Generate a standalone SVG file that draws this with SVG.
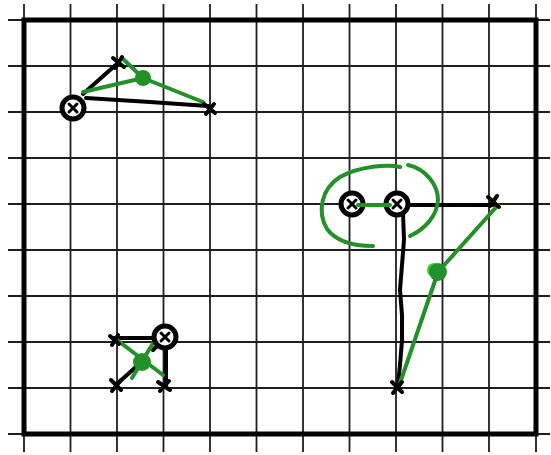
<svg xmlns="http://www.w3.org/2000/svg" width="551" height="455" viewBox="0 0 551 455">
<defs>
<style>
.grid line{stroke:#1e1e1e;stroke-width:1.8}
.border{fill:none;stroke:#000;stroke-width:5}
.blk{fill:none;stroke:#000;stroke-width:4;stroke-linecap:round;stroke-linejoin:round}
.grn{fill:none;stroke:#24902a;stroke-width:4;stroke-linecap:round;stroke-linejoin:round}
.dot{fill:#24902a}
.ring{fill:#fff;stroke:#000;stroke-width:5}
.xm{stroke:#000;stroke-width:4;stroke-linecap:round}
.xs{stroke:#000;stroke-width:3;stroke-linecap:round}
</style>
</defs>
<rect width="551" height="455" fill="#fff"/>
<g id="grid" class="grid">
<line x1="70.5" y1="4" x2="70.5" y2="452"/>
<line x1="117" y1="4" x2="117" y2="452"/>
<line x1="163.5" y1="4" x2="163.5" y2="452"/>
<line x1="210" y1="4" x2="210" y2="452"/>
<line x1="256.5" y1="4" x2="256.5" y2="452"/>
<line x1="303" y1="4" x2="303" y2="452"/>
<line x1="349.5" y1="4" x2="349.5" y2="452"/>
<line x1="396" y1="4" x2="396" y2="452"/>
<line x1="442.5" y1="4" x2="442.5" y2="452"/>
<line x1="489" y1="4" x2="489" y2="452"/>
<line x1="24" y1="4" x2="24" y2="452"/>
<line x1="536" y1="4" x2="536" y2="452"/>
<line x1="8" y1="66" x2="550" y2="66"/>
<line x1="8" y1="112" x2="550" y2="112"/>
<line x1="8" y1="158" x2="550" y2="158"/>
<line x1="8" y1="204" x2="550" y2="204"/>
<line x1="8" y1="250" x2="550" y2="250"/>
<line x1="8" y1="296" x2="550" y2="296"/>
<line x1="8" y1="342" x2="550" y2="342"/>
<line x1="8" y1="388" x2="550" y2="388"/>
<line x1="8" y1="20" x2="550" y2="20"/>
<line x1="8" y1="434" x2="550" y2="434"/>
</g>
<rect class="border" x="24" y="20" width="512" height="414"/>
<g id="connectors">
<path class="blk" d="M83 94 L119 62"/>
<path class="blk" d="M86 98 L150 102 L208 106"/>
<path class="grn" d="M83 92 L143 78"/>
<path class="grn" d="M122 58 L143 78 L203 102"/>
<path class="blk" d="M113 338 L153 338"/>
<path class="blk" d="M166 348 L166 385"/>
<path class="blk" d="M117 384 L138 365"/>
<path class="blk" d="M153 350 L159 344"/>
<path class="grn" d="M117 340 L163 375"/>
<path class="grn" d="M155 340 L132 378"/>
<path class="blk" d="M410 205 L497 205"/>
<path class="blk" d="M403 213 L404 240 L402 265 L400 290 L402 315 L402 340 L400 365 L398 385"/>
<path class="grn" d="M400 167 C388 164 360 166 340 177 C321 189 317 212 327 229 C339 245 362 246 373 246"/>
<path class="grn" d="M408 165 C426 169 438 185 438 200 C437 216 425 229 410 236"/>
<path class="grn" d="M498 205 L438 272 L399 386"/>
</g>
<g id="node-tl-circle"><circle class="ring" cx="73" cy="108" r="11"/><path class="xs" d="M69 104 L77 112 M77 104 L69 112"/></g>
<g id="node-tl-x1"><path class="xm" d="M113 58 L124 67 M122 57 L115 68"/></g>
<g id="node-tl-x2"><path class="xm" d="M204 104 L215 113 M214 104 L206 114"/></g>
<g id="node-tl-dot"><circle class="dot" cx="143" cy="78" r="8"/></g>
<g id="node-bl-circle"><circle class="ring" cx="165" cy="337" r="11"/><path class="xs" d="M161 333 L169 341 M169 333 L161 341"/></g>
<g id="node-bl-x1"><path class="xm" d="M110 336 L119 344 M118 335 L112 345"/></g>
<g id="node-bl-x2"><path class="xm" d="M111 380 L121 390 M121 380 L112 391"/></g>
<g id="node-bl-x3"><path class="xm" d="M158 382 L170 390 M169 381 L160 391"/></g>
<g id="node-bl-dot"><circle class="dot" cx="142" cy="362" r="9"/></g>
<g id="node-r-circle1"><circle class="ring" cx="352" cy="204" r="11"/><path class="xs" d="M348 200 L356 208 M356 200 L348 208"/></g>
<g id="node-r-circle2"><circle class="ring" cx="397" cy="204" r="11"/><path class="xs" d="M393 200 L401 208 M401 200 L393 208"/></g>
<g id="node-r-x1"><path class="xm" d="M488 197 L499 207 M497 196 L490 206"/></g>
<g id="node-r-x2"><path class="xm" d="M392 382 L402 392 M402 382 L393 393"/></g>
<g id="node-r-dot"><circle fill="#2bd62b" cx="434" cy="270" r="7"/><circle class="dot" cx="438" cy="272" r="9"/></g>
<path class="grn" d="M358 205 L390 205"/>
</svg>
